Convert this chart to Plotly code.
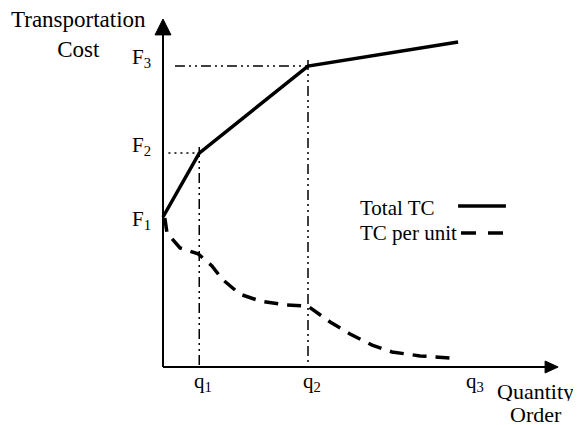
import plotly.graph_objects as go

# Conceptual values (abstract units)
q_vals = [1.0, 4.0, 8.5]
q_labels = ["q<sub>1</sub>", "q<sub>2</sub>", "q<sub>3</sub>"]
F_vals = [5.0, 7.13, 10.03]
F_labels = ["F<sub>1</sub>", "F<sub>2</sub>", "F<sub>3</sub>"]

total_x = [0.0, 1.0, 4.0, 8.14]
total_y = [5.0, 7.13, 10.03, 10.83]

unit_x = [0.05, 0.11, 0.47, 0.97, 1.35, 1.63, 2.12, 2.68, 3.37, 4.0, 4.61, 5.16, 5.77, 6.32, 7.09, 7.92]
unit_y = [4.97, 4.47, 3.97, 3.77, 3.37, 2.93, 2.43, 2.2, 2.07, 2.03, 1.5, 1.1, 0.73, 0.5, 0.37, 0.3]

X_ARROW, Y_ARROW = 10.9, 11.6
FONT = "Liberation Serif, Times New Roman, serif"

fig = go.Figure()

# guide lines
guide = "10px,4px,2px,4px,2px,4px"
def seg(xs, ys, width, dash):
    fig.add_trace(go.Scatter(x=xs, y=ys, mode="lines", line=dict(color="black", width=width, dash=dash),
                             showlegend=False, hoverinfo="skip"))

seg([0.15, q_vals[0]], [F_vals[1], F_vals[1]], 1.5, "2px,4px")
seg([q_vals[0], q_vals[0]], [F_vals[1] + 0.2, 0], 1.5, guide)
seg([0.33, q_vals[1]], [F_vals[2], F_vals[2]], 1.5, guide)
seg([q_vals[1], q_vals[1]], [F_vals[2] + 0.2, -0.15], 1.5, guide)

# axes with arrowheads
seg([0, 0], [0, 11.1], 2, "solid")
seg([0, 10.6], [0, 0], 2, "solid")
fig.add_trace(go.Scatter(x=[-0.22, 0.22, 0, -0.22], y=[11.07, 11.07, Y_ARROW, 11.07], mode="lines",
                         fill="toself", fillcolor="black", line=dict(color="black", width=1),
                         showlegend=False, hoverinfo="skip"))
fig.add_trace(go.Scatter(x=[10.54, 10.54, X_ARROW, 10.54], y=[-0.2, 0.2, 0, -0.2], mode="lines",
                         fill="toself", fillcolor="black", line=dict(color="black", width=1),
                         showlegend=False, hoverinfo="skip"))

# curves
fig.add_trace(go.Scatter(x=total_x, y=total_y, mode="lines", name="Total TC",
                         line=dict(color="black", width=3.5), showlegend=False))
fig.add_trace(go.Scatter(x=unit_x, y=unit_y, mode="lines", name="TC per unit",
                         line=dict(color="black", width=3.5, dash="14px,9px"), showlegend=False))

# legend samples
seg([8.14, 9.46], [5.37, 5.37], 3.5, "solid")
seg([8.22, 9.41], [4.47, 4.47], 3.5, "15px,12px")

def txt(x, y, text, size, xanchor="center", align="center", height=None):
    a = dict(x=x, y=y, xref="x", yref="y", text=text, showarrow=False, xanchor=xanchor,
             yanchor="middle", align=align, font=dict(size=size, family=FONT, color="black"))
    if height is not None:
        a["height"] = height
        a["valign"] = "middle"
        a["borderpad"] = 0
    return a

annotations = [
    txt(-2.34, 11.1, "Transportation<br>Cost", 23),
    txt(10.27, -0.8, "Quantity", 22, height=20),
    txt(10.3, -1.57, "Order", 22, height=20),
    txt(5.38, 5.3, "Total TC", 21, xanchor="left"),
    txt(5.38, 4.47, "TC per unit", 21, xanchor="left"),
]
F_offsets = [-0.1, 0.25, 0.28]
for v, lab, off in zip(F_vals, F_labels, F_offsets):
    annotations.append(txt(-0.28, v + off, lab, 21, xanchor="right"))
for v, lab in zip(q_vals, q_labels):
    annotations.append(txt(v + 0.1, -0.5, lab, 21))

fig.update_layout(
    width=573, height=417,
    margin=dict(l=0, r=0, t=0, b=0),
    paper_bgcolor="white", plot_bgcolor="white",
    annotations=annotations,
    font=dict(family=FONT, size=21, color="black"),
    xaxis=dict(range=[-155 / 36.25, 418 / 36.25], visible=False),
    yaxis=dict(range=[-58 / 30, 359 / 30], visible=False),
)

fig.write_html("out.html")
